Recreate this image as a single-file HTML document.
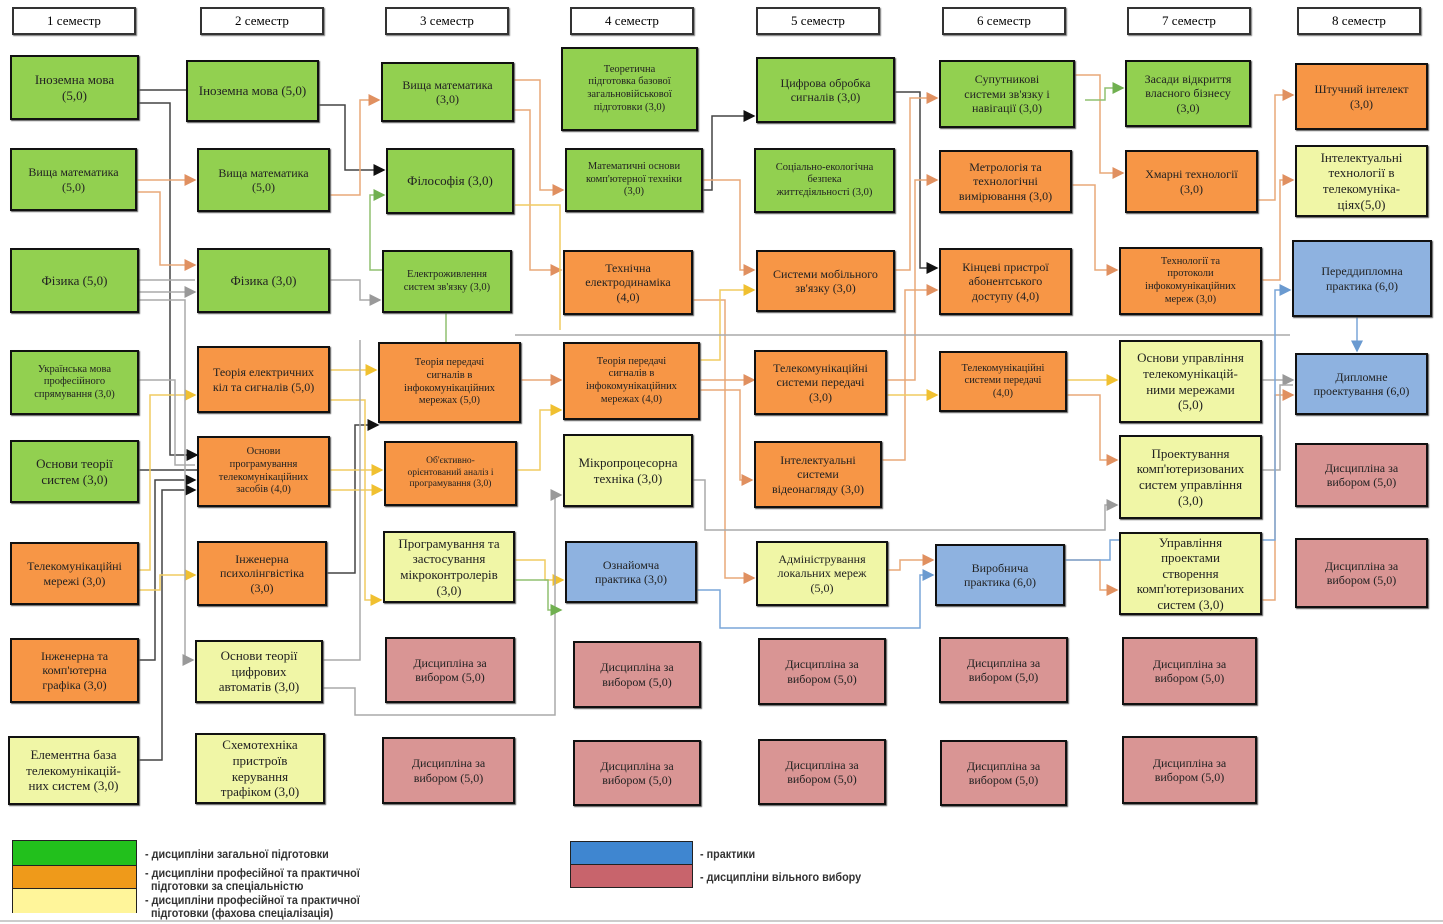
<!DOCTYPE html>
<html><head><meta charset="utf-8">
<style>
body{margin:0;width:1443px;height:924px;background:#fff;position:relative;overflow:hidden;font-family:"Liberation Serif","DejaVu Serif",serif;}
.b{position:absolute;box-sizing:border-box;border:2px solid #111;display:flex;align-items:center;justify-content:center;text-align:center;font-size:12px;line-height:1.2;color:#222;padding:2px 8px;box-shadow:1px 1px 1px #555;}
.h{position:absolute;box-sizing:border-box;border:2px solid #333;background:#fff;display:flex;align-items:center;justify-content:center;font-size:13px;top:7px;height:28px;width:124px;box-shadow:1px 1px 1px #777;}
.g{background:#92d050}.o{background:#f79646}.y{background:#f0f6a6}.bl{background:#8eb2e0}.p{background:#d99594}
.s{font-size:10.5px;padding:2px 4px}.l{font-size:14px}
svg{position:absolute;left:0;top:0}
.lg{position:absolute;font-family:"Liberation Sans",sans-serif;font-size:12px;font-weight:bold;color:#333;line-height:13px;transform:scaleX(.9);transform-origin:left}
</style></head><body>
<svg width="1443" height="924">
<defs>
<marker id="k" markerWidth="8" markerHeight="8" refX="7" refY="4" orient="auto"><path d="M0,0L8,4L0,8z" fill="#111"/></marker>
<marker id="r" markerWidth="8" markerHeight="8" refX="7" refY="4" orient="auto"><path d="M0,0L8,4L0,8z" fill="#e09060"/></marker>
<marker id="yy" markerWidth="8" markerHeight="8" refX="7" refY="4" orient="auto"><path d="M0,0L8,4L0,8z" fill="#f0c030"/></marker>
<marker id="gr" markerWidth="8" markerHeight="8" refX="7" refY="4" orient="auto"><path d="M0,0L8,4L0,8z" fill="#999"/></marker>
<marker id="gn" markerWidth="8" markerHeight="8" refX="7" refY="4" orient="auto"><path d="M0,0L8,4L0,8z" fill="#70b050"/></marker>
<marker id="bu" markerWidth="8" markerHeight="8" refX="7" refY="4" orient="auto"><path d="M0,0L8,4L0,8z" fill="#6a9ad0"/></marker>
</defs>
<g fill="none" stroke-width="1.5">
<g stroke="#444">
<polyline points="139,90 186,90"/>
<polyline points="139,103 170,103 170,455 197,455" marker-end="url(#k)"/>
<polyline points="319,105 345,105 345,170 384,170" marker-end="url(#k)"/>
<polyline points="139,470 197,470"/>
<polyline points="139,660 155,660 155,480 195,480" marker-end="url(#k)"/>
<polyline points="139,760 162,760 162,490 195,490" marker-end="url(#k)"/>
<polyline points="327,573 355,573 355,425 378,425" marker-end="url(#k)"/>
<polyline points="703,190 712,190 712,116 754,116" marker-end="url(#k)"/>
<polyline points="895,92 920,92 920,268 937,268" marker-end="url(#k)"/>
</g>
<g stroke="#e8a878">
<polyline points="137,180 195,180" marker-end="url(#r)"/>
<polyline points="137,192 160,192 160,265 195,265" marker-end="url(#r)"/>
<polyline points="330,195 360,195 360,100 379,100" marker-end="url(#r)"/>
<polyline points="514,80 540,80 540,190 563,190" marker-end="url(#r)"/>
<polyline points="514,110 530,110 530,270 561,270" marker-end="url(#r)"/>
<polyline points="521,380 561,380" marker-end="url(#r)"/>
<polyline points="703,180 740,180 740,270 754,270" marker-end="url(#r)"/>
<polyline points="700,380 754,380" marker-end="url(#r)"/>
<polyline points="700,390 740,390 740,480 752,480" marker-end="url(#r)"/>
<polyline points="693,300 725,300 725,578 754,578" marker-end="url(#r)"/>
<polyline points="895,270 910,270 910,98 937,98" marker-end="url(#r)"/>
<polyline points="887,380 915,380 915,180 937,180" marker-end="url(#r)"/>
<polyline points="882,460 905,460 905,290 937,290" marker-end="url(#r)"/>
<polyline points="888,570 900,570 900,560 933,560" marker-end="url(#r)"/>
<polyline points="1075,75 1100,75 1100,173 1123,173" marker-end="url(#r)"/>
<polyline points="1072,185 1095,185 1095,270 1117,270" marker-end="url(#r)"/>
<polyline points="1067,395 1100,395 1100,460 1117,460" marker-end="url(#r)"/>
<polyline points="1258,200 1275,200 1275,95 1293,95" marker-end="url(#r)"/>
<polyline points="1262,280 1280,280 1280,180 1293,180" marker-end="url(#r)"/>
<polyline points="1067,560 1100,560 1100,590 1117,590" marker-end="url(#r)"/>
<polyline points="1262,600 1275,600 1275,395 1293,395" marker-end="url(#r)"/>
</g>
<g stroke="#f0cc60">
<polyline points="139,570 150,570 150,395 195,395" marker-end="url(#yy)"/>
<polyline points="139,590 160,590 160,575 195,575" marker-end="url(#yy)"/>
<polyline points="330,370 376,370" marker-end="url(#yy)"/>
<polyline points="330,400 365,400 365,600 381,600" marker-end="url(#yy)"/>
<polyline points="330,470 382,470" marker-end="url(#yy)"/>
<polyline points="330,490 382,490" marker-end="url(#yy)"/>
<polyline points="517,470 540,470 540,410 561,410" marker-end="url(#yy)"/>
<polyline points="515,560 545,560 545,580 563,580" marker-end="url(#yy)"/>
<polyline points="515,205 560,205 560,330" />
<polyline points="700,360 720,360 720,290 754,290" marker-end="url(#yy)"/>
<polyline points="887,395 937,395" marker-end="url(#yy)"/>
<polyline points="1067,380 1117,380" marker-end="url(#yy)"/>
</g>
<g stroke="#aaa">
<polyline points="139,280 195,280"/>
<polyline points="139,292 195,292" marker-end="url(#gr)"/>
<polyline points="330,280 360,280 360,300 380,300" marker-end="url(#gr)"/>
<polyline points="139,380 175,380 175,465 195,465"/>
<polyline points="323,660 360,660 360,340"/>
<polyline points="323,688 355,688 355,715 555,715 555,495 561,495" marker-end="url(#gr)"/>
<polyline points="515,335 1290,335"/>
<polyline points="693,480 705,480 705,530 1105,530 1105,505 1117,505" marker-end="url(#gr)"/>
<polyline points="1262,380 1293,380" marker-end="url(#gr)"/>
<polyline points="1262,470 1280,470 1280,385 1293,385"/>
<polyline points="139,300 185,300 185,660 193,660" marker-end="url(#gr)"/>
</g>
<g stroke="#90c070">
<polyline points="446,313 446,342"/>
<polyline points="515,580 548,580 548,610 561,610" marker-end="url(#gn)"/>
<polyline points="512,270 370,270 370,195 384,195" marker-end="url(#gn)"/>
<polyline points="1085,100 1105,100 1105,88 1123,88" marker-end="url(#gn)"/>
</g>
<g stroke="#7aa6d8">
<polyline points="697,590 720,590 720,628 920,628 920,575 933,575" marker-end="url(#bu)"/>
<polyline points="1357,317 1357,351" marker-end="url(#bu)"/>
<polyline points="1065,560 1110,560 1110,540 1275,540 1275,290 1290,290" marker-end="url(#bu)"/>
</g>
</g>
<line x1="0" y1="921" x2="1443" y2="921" stroke="#ccc" stroke-width="2"/>
</svg>

<div class="h" style="left:12px">1 семестр</div>
<div class="h" style="left:200px">2 семестр</div>
<div class="h" style="left:385px">3 семестр</div>
<div class="h" style="left:570px">4 семестр</div>
<div class="h" style="left:756px">5 семестр</div>
<div class="h" style="left:942px">6 семестр</div>
<div class="h" style="left:1127px">7 семестр</div>
<div class="h" style="left:1297px">8 семестр</div>

<div class="b g" style="left:10px;top:55px;width:129px;height:65px;font-size:13px">Іноземна мова<br>(5,0)</div>
<div class="b g" style="left:10px;top:148px;width:127px;height:63px">Вища математика<br>(5,0)</div>
<div class="b g" style="left:10px;top:248px;width:129px;height:65px;font-size:13px">Фізика (5,0)</div>
<div class="b g s" style="left:10px;top:350px;width:129px;height:65px">Українська мова<br>професійного<br>спрямування (3,0)</div>
<div class="b g" style="left:10px;top:440px;width:129px;height:63px;font-size:13px">Основи теорії<br>систем (3,0)</div>
<div class="b o" style="left:10px;top:542px;width:129px;height:63px">Телекомунікаційні<br>мережі (3,0)</div>
<div class="b o" style="left:10px;top:638px;width:129px;height:65px">Інженерна та<br>комп'ютерна<br>графіка (3,0)</div>
<div class="b y" style="left:8px;top:736px;width:131px;height:69px;font-size:13px">Елементна база<br>телекомунікацій-<br>них систем (3,0)</div>

<div class="b g" style="left:186px;top:60px;width:133px;height:62px;font-size:13px">Іноземна мова (5,0)</div>
<div class="b g" style="left:197px;top:148px;width:133px;height:64px">Вища математика<br>(5,0)</div>
<div class="b g" style="left:197px;top:248px;width:133px;height:65px;font-size:13px">Фізика (3,0)</div>
<div class="b o" style="left:197px;top:346px;width:133px;height:67px">Теорія електричних<br>кіл та сигналів (5,0)</div>
<div class="b o s" style="left:197px;top:436px;width:133px;height:71px">Основи<br>програмування<br>телекомунікаційних<br>засобів (4,0)</div>
<div class="b o" style="left:197px;top:541px;width:130px;height:65px">Інженерна<br>психолінгвістіка<br>(3,0)</div>
<div class="b y" style="left:195px;top:640px;width:128px;height:63px;font-size:13px">Основи теорії<br>цифрових<br>автоматів (3,0)</div>
<div class="b y" style="left:195px;top:733px;width:130px;height:71px;font-size:13px">Схемотехніка<br>пристроїв<br>керування<br>трафіком (3,0)</div>

<div class="b g" style="left:381px;top:62px;width:133px;height:60px">Вища математика<br>(3,0)</div>
<div class="b g" style="left:386px;top:148px;width:128px;height:66px;font-size:13px">Філософія (3,0)</div>
<div class="b g s" style="left:382px;top:250px;width:130px;height:63px">Електроживлення<br>систем зв'язку (3,0)</div>
<div class="b o s" style="left:378px;top:342px;width:143px;height:81px">Теорія передачі<br>сигналів в<br>інфокомунікаційних<br>мережах (5,0)</div>
<div class="b o" style="left:384px;top:441px;width:133px;height:65px;font-size:9.5px">Об'єктивно-<br>орієнтований аналіз і<br>програмування (3,0)</div>
<div class="b y" style="left:383px;top:531px;width:132px;height:72px;font-size:13px">Програмування та<br>застосування<br>мікроконтролерів<br>(3,0)</div>
<div class="b p" style="left:385px;top:637px;width:130px;height:66px">Дисципліна за<br>вибором (5,0)</div>
<div class="b p" style="left:382px;top:737px;width:133px;height:67px">Дисципліна за<br>вибором (5,0)</div>

<div class="b g s" style="left:561px;top:47px;width:137px;height:84px">Теоретична<br>підготовка базової<br>загальновійськової<br>підготовки (3,0)</div>
<div class="b g s" style="left:565px;top:148px;width:138px;height:64px">Математичні основи<br>комп'ютерної техніки<br>(3,0)</div>
<div class="b o" style="left:563px;top:250px;width:130px;height:65px">Технічна<br>електродинаміка<br>(4,0)</div>
<div class="b o s" style="left:563px;top:342px;width:137px;height:78px">Теорія передачі<br>сигналів в<br>інфокомунікаційних<br>мережах (4,0)</div>
<div class="b y" style="left:563px;top:434px;width:130px;height:73px;font-size:13px">Мікропроцесорна<br>техніка (3,0)</div>
<div class="b bl" style="left:565px;top:541px;width:132px;height:62px">Ознайомча<br>практика (3,0)</div>
<div class="b p" style="left:573px;top:641px;width:128px;height:67px">Дисципліна за<br>вибором (5,0)</div>
<div class="b p" style="left:573px;top:740px;width:128px;height:66px">Дисципліна за<br>вибором (5,0)</div>

<div class="b g" style="left:756px;top:57px;width:139px;height:66px">Цифрова обробка<br>сигналів (3,0)</div>
<div class="b g s" style="left:754px;top:148px;width:141px;height:65px">Соціально-екологічна<br>безпека<br>життєдіяльності (3,0)</div>
<div class="b o" style="left:756px;top:250px;width:139px;height:62px">Системи мобільного<br>зв'язку (3,0)</div>
<div class="b o" style="left:754px;top:350px;width:133px;height:65px">Телекомунікаційні<br>системи передачі<br>(3,0)</div>
<div class="b o" style="left:754px;top:441px;width:128px;height:67px">Інтелектуальні<br>системи<br>відеонагляду (3,0)</div>
<div class="b y" style="left:756px;top:541px;width:132px;height:65px">Адміністрування<br>локальних мереж<br>(5,0)</div>
<div class="b p" style="left:758px;top:638px;width:128px;height:67px">Дисципліна за<br>вибором (5,0)</div>
<div class="b p" style="left:758px;top:739px;width:128px;height:66px">Дисципліна за<br>вибором (5,0)</div>

<div class="b g" style="left:939px;top:60px;width:136px;height:68px">Супутникові<br>системи зв'язку і<br>навігації (3,0)</div>
<div class="b o" style="left:939px;top:150px;width:133px;height:63px">Метрологія та<br>технологічні<br>вимірювання (3,0)</div>
<div class="b o" style="left:939px;top:248px;width:133px;height:67px">Кінцеві пристрої<br>абонентського<br>доступу (4,0)</div>
<div class="b o s" style="left:939px;top:351px;width:128px;height:61px">Телекомунікаційні<br>системи передачі<br>(4,0)</div>
<div class="b bl" style="left:935px;top:544px;width:130px;height:62px">Виробнича<br>практика (6,0)</div>
<div class="b p" style="left:939px;top:637px;width:129px;height:66px">Дисципліна за<br>вибором (5,0)</div>
<div class="b p" style="left:940px;top:740px;width:127px;height:66px">Дисципліна за<br>вибором (5,0)</div>

<div class="b g" style="left:1125px;top:60px;width:126px;height:67px">Засади відкриття<br>власного бізнесу<br>(3,0)</div>
<div class="b o" style="left:1125px;top:150px;width:133px;height:63px">Хмарні технології<br>(3,0)</div>
<div class="b o s" style="left:1119px;top:247px;width:143px;height:68px">Технології та<br>протоколи<br>інфокомунікаційних<br>мереж (3,0)</div>
<div class="b y" style="left:1119px;top:340px;width:143px;height:83px;font-size:13px">Основи управління<br>телекомунікацій-<br>ними мережами<br>(5,0)</div>
<div class="b y" style="left:1119px;top:435px;width:143px;height:84px;font-size:13px">Проектування<br>комп'ютеризованих<br>систем управління<br>(3,0)</div>
<div class="b y" style="left:1119px;top:532px;width:143px;height:83px;font-size:13px">Управління<br>проектами<br>створення<br>комп'ютеризованих<br>систем (3,0)</div>
<div class="b p" style="left:1122px;top:637px;width:135px;height:68px">Дисципліна за<br>вибором (5,0)</div>
<div class="b p" style="left:1122px;top:736px;width:135px;height:68px">Дисципліна за<br>вибором (5,0)</div>

<div class="b o" style="left:1295px;top:63px;width:133px;height:67px">Штучний інтелект<br>(3,0)</div>
<div class="b y" style="left:1295px;top:145px;width:133px;height:72px;font-size:13px">Інтелектуальні<br>технології в<br>телекомуніка-<br>ціях(5,0)</div>
<div class="b bl" style="left:1292px;top:240px;width:140px;height:77px">Переддипломна<br>практика (6,0)</div>
<div class="b bl" style="left:1295px;top:353px;width:133px;height:62px">Дипломне<br>проектування (6,0)</div>
<div class="b p" style="left:1295px;top:443px;width:133px;height:64px">Дисципліна за<br>вибором (5,0)</div>
<div class="b p" style="left:1295px;top:538px;width:133px;height:70px">Дисципліна за<br>вибором (5,0)</div>

<div style="position:absolute;left:12px;top:840px;width:125px;height:73px;border:1.5px solid #222;box-sizing:border-box">
<div style="height:24px;background:#22c01c;border-bottom:1.5px solid #222"></div>
<div style="height:22px;background:#ef9a1a;border-bottom:1.5px solid #222"></div>
<div style="height:24px;background:#fff59a"></div></div>
<div class="lg" style="left:145px;top:848px">- дисципліни загальної підготовки</div>
<div class="lg" style="left:145px;top:867px">- дисципліни професійної та практичної<br>&nbsp; підготовки за спеціальністю</div>
<div class="lg" style="left:145px;top:894px">- дисципліни професійної та практичної<br>&nbsp; підготовки (фахова спеціалізація)</div>
<div style="position:absolute;left:570px;top:841px;width:123px;height:47px;border:1.5px solid #222;box-sizing:border-box">
<div style="height:22px;background:#3f86d0;border-bottom:1.5px solid #222"></div>
<div style="height:22px;background:#c8646c"></div></div>
<div class="lg" style="left:700px;top:848px">- практики</div>
<div class="lg" style="left:700px;top:871px">- дисципліни вільного вибору</div>
</body></html>
